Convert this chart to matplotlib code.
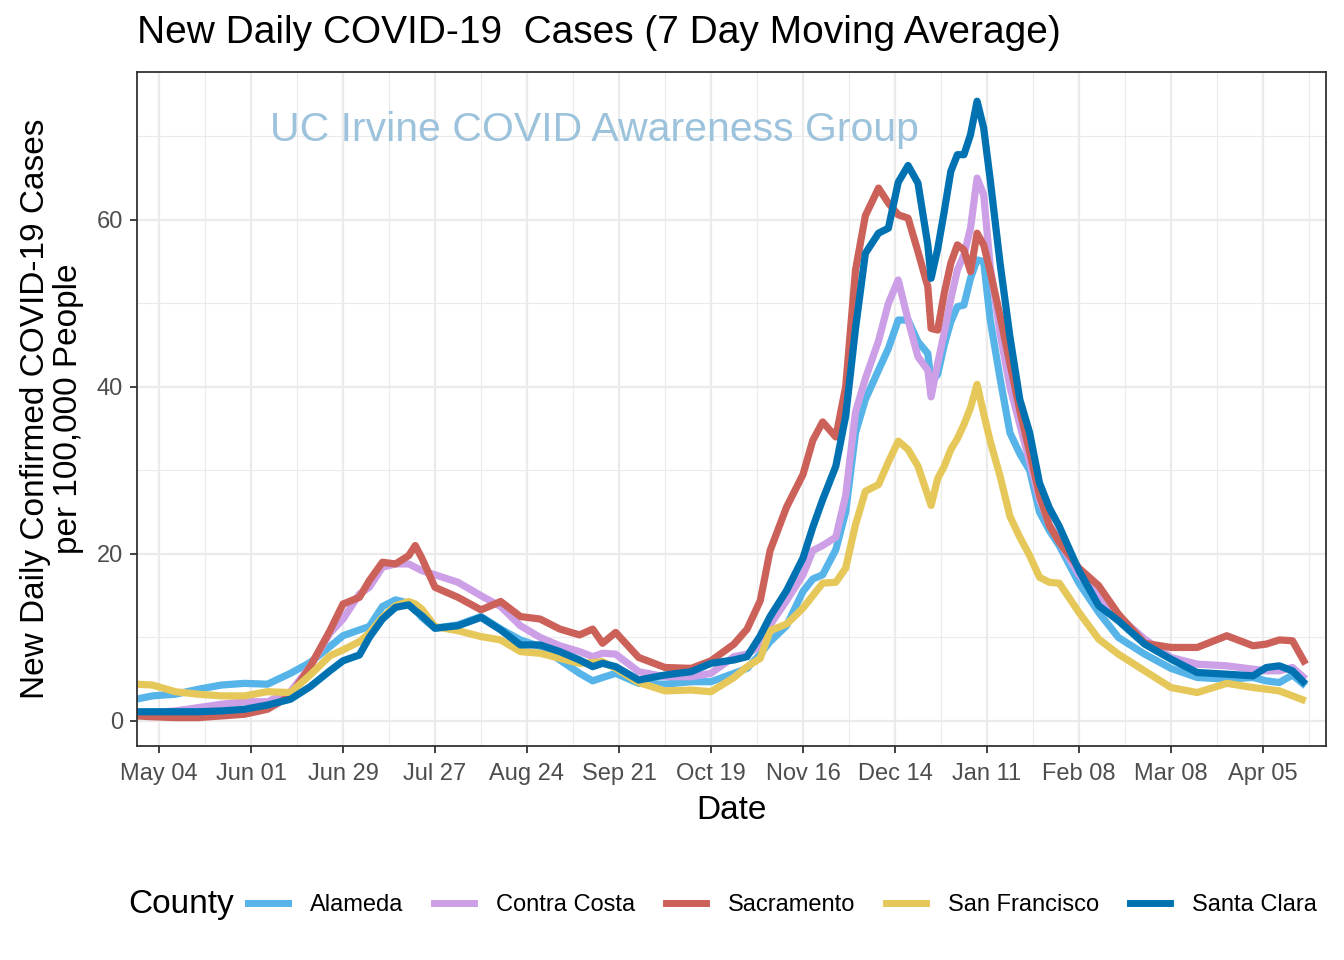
import numpy as np
import pandas as pd
import matplotlib
matplotlib.use('Agg')
import matplotlib.pyplot as plt
import matplotlib.dates as mdates
from matplotlib.lines import Line2D

plt.rcParams['font.family'] = ['Liberation Sans', 'DejaVu Sans']

days = [-7, -2, 5, 12, 19, 26, 33, 40, 46, 52,
        56, 61, 64, 68, 72, 76, 78, 80, 84, 91,
        98, 104, 110, 116, 122, 128, 132, 135, 139, 146,
        154, 162, 168, 175, 179, 183, 186, 191, 196, 199,
        202, 206, 209, 212, 215, 219, 222, 225, 228, 231,
        234, 235, 237, 239, 241, 243, 245, 247, 249, 251,
        253, 256, 259, 262, 265, 268, 271, 274, 280, 286,
        292, 300, 308, 316, 325, 333, 337, 341, 345, 349]

alameda = [2.6, 3.0, 3.2, 3.8, 4.3, 4.5, 4.4, 5.7, 7.0, 8.9,
           10.2, 10.9, 11.3, 13.7, 14.5, 14.1, 13.4, 12.4, 11.1, 11.5,
           12.5, 11.0, 9.7, 8.9, 7.3, 5.7, 4.8, 5.2, 5.7, 4.5,
           4.4, 4.7, 4.7, 5.7, 6.3, 8.0, 9.5, 11.4, 15.5, 17.0,
           17.5, 20.5, 25.0, 34.5, 38.5, 42.0, 44.6, 48.0, 48.0, 45.4,
           44.0, 40.5, 41.5, 45.0, 47.8, 49.6, 49.8, 53.0, 55.2, 55.0,
           48.0, 41.0, 34.5, 32.0, 30.0, 25.0, 22.8, 21.0, 16.5, 13.0,
           10.0, 8.0, 6.3, 5.2, 5.0, 5.2, 4.8, 4.6, 5.5, 4.2]

contra_costa = [1.0, 1.0, 1.2, 1.6, 2.0, 2.3, 2.3, 3.5, 6.5, 10.5,
                12.2, 15.2, 16.0, 18.4, 18.8, 18.8, 18.4, 18.0, 17.5, 16.6,
                15.0, 13.7, 11.4, 10.0, 9.0, 8.3, 7.7, 8.1, 8.0, 5.9,
                5.3, 5.3, 5.7, 7.7, 8.0, 9.0, 11.5, 14.4, 17.5, 20.4,
                21.0, 22.0, 27.0, 37.0, 41.0, 45.5, 50.0, 52.8, 48.0, 43.6,
                42.0, 38.8, 42.8, 46.5, 50.5, 54.0, 55.8, 59.0, 65.0, 63.0,
                54.4, 46.4, 40.0, 35.5, 31.0, 26.5, 23.5, 21.5, 17.5, 15.0,
                12.5, 9.8, 7.6, 6.8, 6.6, 6.2, 6.0, 6.0, 6.4, 5.0]

sacramento = [0.6, 0.5, 0.4, 0.4, 0.6, 0.8, 1.4, 3.0, 6.5, 10.8,
              14.0, 14.8, 16.8, 19.0, 18.8, 19.8, 21.0, 19.5, 16.0, 14.8,
              13.3, 14.3, 12.5, 12.2, 11.0, 10.3, 11.0, 9.3, 10.6, 7.6,
              6.4, 6.3, 7.2, 9.2, 11.0, 14.4, 20.4, 25.6, 29.5, 33.6,
              35.8, 34.0, 40.0, 54.0, 60.5, 63.8, 62.0, 60.6, 60.2, 56.2,
              52.0, 47.0, 46.8, 51.2, 54.8, 57.0, 56.4, 53.8, 58.4, 57.0,
              53.8, 48.5, 42.8, 37.2, 32.2, 27.0, 23.4, 21.4, 18.3, 16.2,
              12.8, 9.3, 8.8, 8.8, 10.2, 9.0, 9.2, 9.7, 9.6, 6.8]

san_francisco = [4.4, 4.3, 3.5, 3.2, 3.0, 3.0, 3.5, 3.4, 5.5, 7.8,
                 8.5, 9.5, 10.5, 12.4, 13.8, 14.3, 14.0, 13.4, 11.3, 10.8,
                 10.1, 9.7, 8.3, 8.1, 7.5, 6.9, 7.0, 7.1, 6.3, 4.6,
                 3.6, 3.7, 3.5, 5.2, 6.5, 7.5, 10.8, 11.6, 13.5, 15.0,
                 16.5, 16.6, 18.3, 23.5, 27.5, 28.3, 31.0, 33.5, 32.5, 30.5,
                 27.0, 25.8, 29.0, 30.5, 32.5, 33.8, 35.5, 37.5, 40.3, 36.8,
                 33.5, 29.3, 24.5, 22.0, 19.8, 17.2, 16.6, 16.5, 13.0, 9.8,
                 8.0, 6.0, 4.0, 3.4, 4.5, 4.0, 3.8, 3.6, 3.0, 2.4]

santa_clara = [1.1, 1.1, 1.1, 1.1, 1.2, 1.4, 1.9, 2.6, 4.1, 6.0,
               7.2, 7.9, 10.0, 12.2, 13.6, 13.9, 13.2, 12.6, 11.1, 11.4,
               12.4, 10.9, 9.1, 9.1, 8.3, 7.3, 6.5, 6.9, 6.5, 4.9,
               5.5, 5.9, 6.9, 7.3, 7.7, 10.2, 12.5, 15.6, 19.5, 23.2,
               26.5, 30.5, 36.5, 47.0, 56.0, 58.4, 59.0, 64.5, 66.5, 64.4,
               57.0, 53.0, 56.5, 61.0, 65.8, 67.8, 67.8, 70.2, 74.2, 71.0,
               64.8, 54.8, 46.0, 38.5, 34.5, 28.5, 25.5, 23.3, 18.0, 13.8,
               12.0, 9.2, 7.4, 5.8, 5.6, 5.4, 6.4, 6.6, 6.0, 4.4]

counties = ['Alameda', 'Contra Costa', 'Sacramento', 'San Francisco', 'Santa Clara']
series = [alameda, contra_costa, sacramento, san_francisco, santa_clara]
colors = ['#56B4E9', '#CC9FE6', '#CC6159', '#E6C85A', '#0072B2']

start = pd.Timestamp('2020-05-04')
dates = start + pd.to_timedelta(days, unit='D')

fig = plt.figure(figsize=(13.44, 9.6), dpi=100)
ax = fig.add_axes([137/1344, 1 - 746/960, (1326 - 137)/1344, (746 - 72)/960])

for name, vals, col in zip(counties, series, colors):
    ax.plot(dates, vals, color=col, lw=5.2, label=name,
            solid_joinstyle='round', solid_capstyle='butt')

ax.set_xlim(start + pd.Timedelta(days=-6.7), start + pd.Timedelta(days=355.2))
ax.set_ylim(-3.0, 77.7)

major = [start + pd.Timedelta(days=28 * k) for k in range(13)]
minor = [start + pd.Timedelta(days=14 + 28 * k) for k in range(13)]
ax.set_xticks(major)
ax.set_xticks(minor, minor=True)
ax.xaxis.set_major_formatter(mdates.DateFormatter('%b %d'))
ax.set_yticks([0, 20, 40, 60])
ax.set_yticks([10, 30, 50, 70], minor=True)

ax.grid(which='major', color='#EBEBEB', lw=1.6)
ax.grid(which='minor', color='#EBEBEB', lw=0.8)
ax.set_axisbelow(True)
ax.tick_params(which='minor', length=0)
ax.tick_params(which='major', length=5, width=1.3, color='#333333',
               labelcolor='#4D4D4D', labelsize=17)
ax.tick_params(axis='x', pad=7)
ax.tick_params(axis='y', pad=5)
for s in ax.spines.values():
    s.set_color('#333333')
    s.set_linewidth(1.3)

# watermark
ax.text(start + pd.Timedelta(days=33.8), 70.8, 'UC Irvine COVID Awareness Group',
        color='#9DC3DC', fontsize=29.5, va='center', ha='left')

ax.set_xlabel('Date', fontsize=24)
ax.xaxis.set_label_coords(0.5, (746 - 795) / 674)
ax.set_ylabel('New Daily Confirmed COVID-19 Cases\nper 100,000 People',
              fontsize=24, linespacing=1.1)
ax.yaxis.set_label_coords((84 - 137) / 1189, 0.5)

fig.text(137/1344, 1 - 15/960, 'New Daily COVID-19  Cases (7 Day Moving Average)',
         fontsize=28, va='top', ha='left')

# legend at the bottom
handles = [Line2D([], [], color=c, lw=5) for c in colors]
fig.text(128/1344, 1 - 905/960, 'County', fontsize=24, va='center', ha='left')
fig.legend(handles, counties, loc='center left', bbox_to_anchor=(248/1344, 1 - 905/960),
           ncol=5, frameon=False, fontsize=17, handlelength=1.7, handletextpad=0.93,
           columnspacing=1.3, borderpad=0, borderaxespad=0)

fig.savefig('out.png', dpi=100)
